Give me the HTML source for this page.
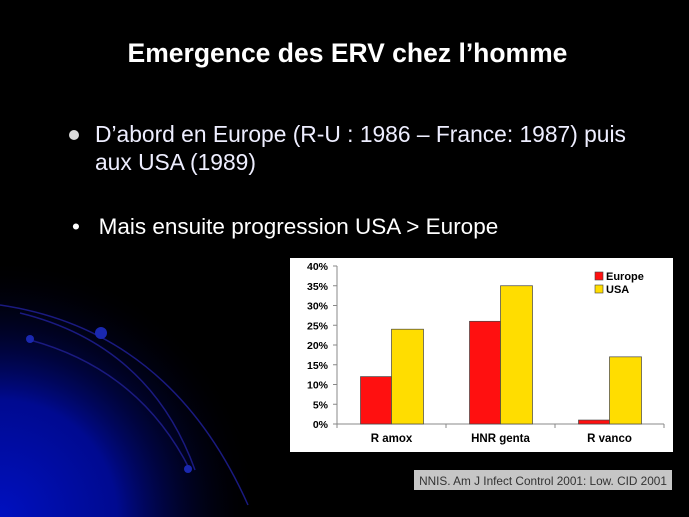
<!DOCTYPE html>
<html><head><meta charset="utf-8"><style>
body{margin:0;width:689px;height:517px;background:#000;overflow:hidden;position:relative;font-family:"Liberation Sans",sans-serif}
.t{position:absolute;color:#fff;white-space:nowrap}
</style></head><body>
<svg width="689" height="517" style="position:absolute;left:0;top:0">
<defs><radialGradient id="g" cx="0" cy="517" r="260" gradientUnits="userSpaceOnUse">
<stop offset="0" stop-color="#0010c0"/><stop offset="0.45" stop-color="#000a90"/><stop offset="1" stop-color="#000" stop-opacity="0"/></radialGradient></defs>
<rect width="689" height="517" fill="url(#g)"/>
<g fill="none" stroke="#1a1a80" stroke-width="1.5">
<path d="M0,305 Q170,330 248,505"/>
<path d="M20,313 Q150,345 195,470"/>
<path d="M30,340 Q140,370 190,470"/>
</g>
<circle cx="101" cy="333" r="6" fill="#1a28b0"/>
<circle cx="30" cy="339" r="4" fill="#1a28b0"/>
<circle cx="188" cy="469" r="4" fill="#1a28b0"/>
</svg>
<div class="t" style="left:0;width:695px;text-align:center;top:38px;font-size:26.5px;font-weight:bold">Emergence des ERV chez l’homme</div>
<div style="position:absolute;left:69px;top:130px;width:10px;height:10px;border-radius:50%;background:#ddd"></div>
<div class="t" style="left:95px;top:120px;font-size:22.8px;line-height:28px;color:#eef">D’abord en Europe (R-U : 1986 – France: 1987) puis<br>aux USA (1989)</div>
<div class="t" style="left:72px;top:214px;font-size:22.5px">•&nbsp;&nbsp;&nbsp;Mais ensuite progression USA &gt; Europe</div>
<svg width="689" height="517" style="position:absolute;left:0;top:0">
<rect x="290" y="258" width="383" height="194" fill="#fff"/>
<g id="c"></g>
</svg>
<div style="position:absolute;left:414px;top:470px;width:258px;height:20px;background:#c6c6c6;color:#333;font-size:11.8px;line-height:22px;text-align:center;white-space:nowrap;overflow:hidden">NNIS. Am J Infect Control 2001: Low. CID 2001</div>
<script>
const categories=["R amox","HNR genta","R vanco"];
const europe=[12,26,1];
const usa=[24,35,17];
const yTicks=[0,5,10,15,20,25,30,35,40];
const x0=337,x1=664,yb=424,yt=266,ymax=40;
const y=v=>yb-(v/ymax)*(yb-yt);
const gw=(x1-x0)/categories.length;
const ns="http://www.w3.org/2000/svg";
const g=document.getElementById('c');
function mk(t,a,txt){const e=document.createElementNS(ns,t);for(const k in a)e.setAttribute(k,a[k]);if(txt!=null)e.textContent=txt;g.appendChild(e);return e;}
let e=mk('line',{x1:x0,y1:yt,x2:x0,y2:yb,stroke:'#888'});

e=mk('line',{x1:x0,y1:yb,x2:x1,y2:yb,stroke:'#888'});

yTicks.forEach(v=>{mk('line',{x1:x0-4,y1:y(v),x2:x0,y2:y(v),stroke:'#888'});
e=mk('text',{x:x0-9,y:y(v)+4,'text-anchor':'end','font-size':'10.5','font-weight':'bold',fill:'#000'},v+'%');
});
for(let i=0;i<=categories.length;i++)mk('line',{x1:x0+gw*i,y1:yb,x2:x0+gw*i,y2:yb+4,stroke:'#888'});
categories.forEach((c,i)=>{const cx=x0+gw*(i+0.5);
e=mk('rect',{x:cx-31,y:y(europe[i]),width:31,height:yb-y(europe[i]),fill:'#ff1010',stroke:'#444','stroke-width':0.7});

e=mk('rect',{x:cx,y:y(usa[i]),width:32,height:yb-y(usa[i]),fill:'#ffdd00',stroke:'#444','stroke-width':0.7});

e=mk('text',{x:cx,y:yb+18,'text-anchor':'middle','font-size':'11.5','font-weight':'bold',fill:'#000'},c);
});
[['Europe','#ff1010',276],['USA','#ffdd00',289]].forEach(([n,col,yy])=>{
mk('rect',{x:595,y:yy-4,width:8,height:8,fill:col,stroke:'#444','stroke-width':0.6});
e=mk('text',{x:606,y:yy+4,'font-size':'11','font-weight':'bold',fill:'#000'},n);
});
</script>
</body></html>
